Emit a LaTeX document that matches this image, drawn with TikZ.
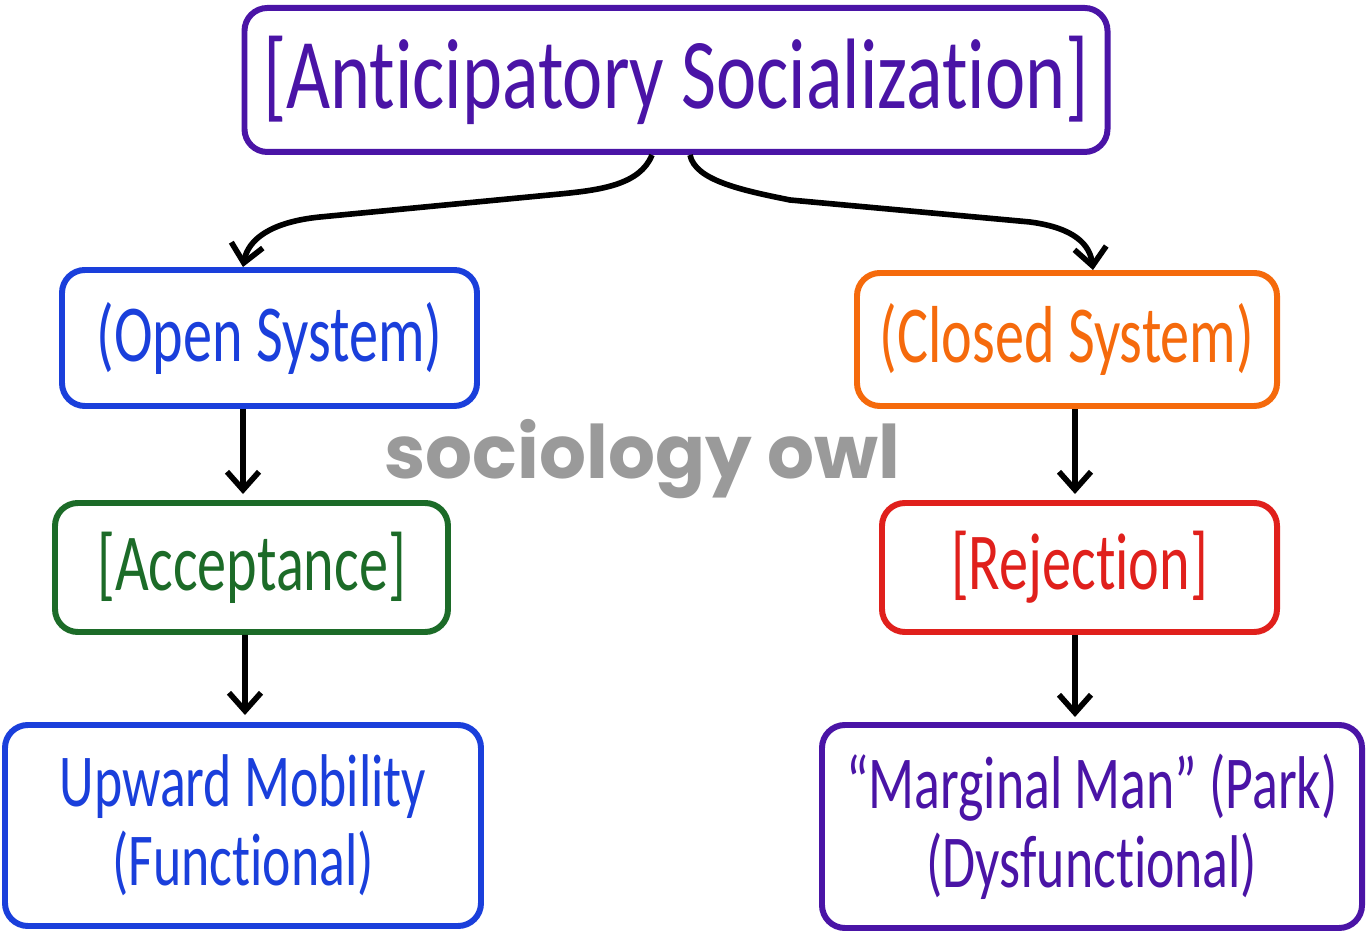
\documentclass[tikz,border=0pt]{standalone}
\usepackage{fontspec}
\setmainfont{Carlito}
\newfontfamily\handfont[FakeStretch=0.72,Ligatures=NoCommon]{Carlito}
\newfontfamily\titlefont[FakeStretch=0.76,Ligatures=NoCommon]{Carlito}
\newfontfamily\owlfont{Poppins}
\usetikzlibrary{arrows.meta,calc}
\definecolor{purpleclr}{HTML}{4A14A6}
\definecolor{blueclr}{HTML}{1A3FDB}
\definecolor{orangeclr}{HTML}{F56A0C}
\definecolor{greenclr}{HTML}{1C6B28}
\definecolor{redclr}{HTML}{E0201C}
\definecolor{owlgray}{HTML}{9A9A9A}

\begin{document}
\begin{tikzpicture}[
    box/.style={rounded corners=13pt, line width=3.4pt, align=center, inner sep=0pt,
                font=\handfont\fontsize{46}{46}\selectfont},
    twoline/.style={box, font=\handfont\fontsize{42.5}{45}\selectfont},
    arr/.style={line width=3.2pt, -{Straight Barb[length=3.6mm,width=6.4mm]}},
  ]
  \useasboundingbox (0,0) rectangle (27.36,18.68);

  \node[box, draw=purpleclr, text=purpleclr, minimum width=17.26cm, minimum height=2.88cm,
        font=\titlefont\fontsize{57}{57}\selectfont] (soc) at (13.52,17.08) {[Anticipatory Socialization]};

  \node[box, draw=blueclr, text=blueclr, minimum width=8.3cm, minimum height=2.72cm] (open) at (5.39,11.92) {(Open System)};
  \node[box, draw=orangeclr, text=orangeclr, minimum width=8.4cm, minimum height=2.66cm] (closed) at (21.34,11.89) {(Closed System)};

  \node[box, draw=greenclr, text=greenclr, minimum width=7.86cm, minimum height=2.58cm] (accept) at (5.03,7.33) {[Acceptance]};
  \node[box, draw=redclr, text=redclr, minimum width=7.9cm, minimum height=2.58cm] (reject) at (21.59,7.33) {[Rejection]};

  \node[twoline, draw=blueclr, text=blueclr, minimum width=9.52cm, minimum height=4.02cm] (upward) at (4.86,2.17) {Upward Mobility\\(Functional)};
  \node[twoline, draw=purpleclr, text=purpleclr, minimum width=10.8cm, minimum height=4.06cm] (marginal) at (21.84,2.15) {“Marginal Man” (Park)\\(Dysfunctional)};

  \node[font=\owlfont\bfseries\fontsize{42}{42}\selectfont, text=owlgray] (owl) at (12.85,9.5) {sociology owl};

  % split from the top box
  \draw[arr] ($(soc.south)+(-0.48,0)$) .. controls (12.8,14.98) and (12.0,14.88) .. (11.2,14.8)
     -- (6.4,14.34) .. controls (5.4,14.24) and (4.96,13.88) .. ($(open.north)+(-0.53,0)$);
  \draw[arr] ($(soc.south)+(0.28,0)$) .. controls (13.9,15.08) and (14.8,14.88) .. (15.8,14.68)
     -- (20.6,14.24) .. controls (21.5,14.12) and (21.8,13.78) .. ($(closed.north)+(0.52,0)$);

  % down the two columns
  \draw[arr] ($(open.south)+(-0.53,0)$) -- ($(accept.north)+(-0.17,0.12)$);
  \draw[arr] ($(accept.south)+(-0.13,0)$) -- ($(upward.north)+(0.04,0.14)$);
  \draw[arr] ($(closed.south)+(0.16,0)$) -- ($(reject.north)+(-0.09,0.12)$);
  \draw[arr] ($(reject.south)+(-0.09,0)$) -- ($(marginal.north)+(-0.34,0.1)$);
\end{tikzpicture}
\end{document}
